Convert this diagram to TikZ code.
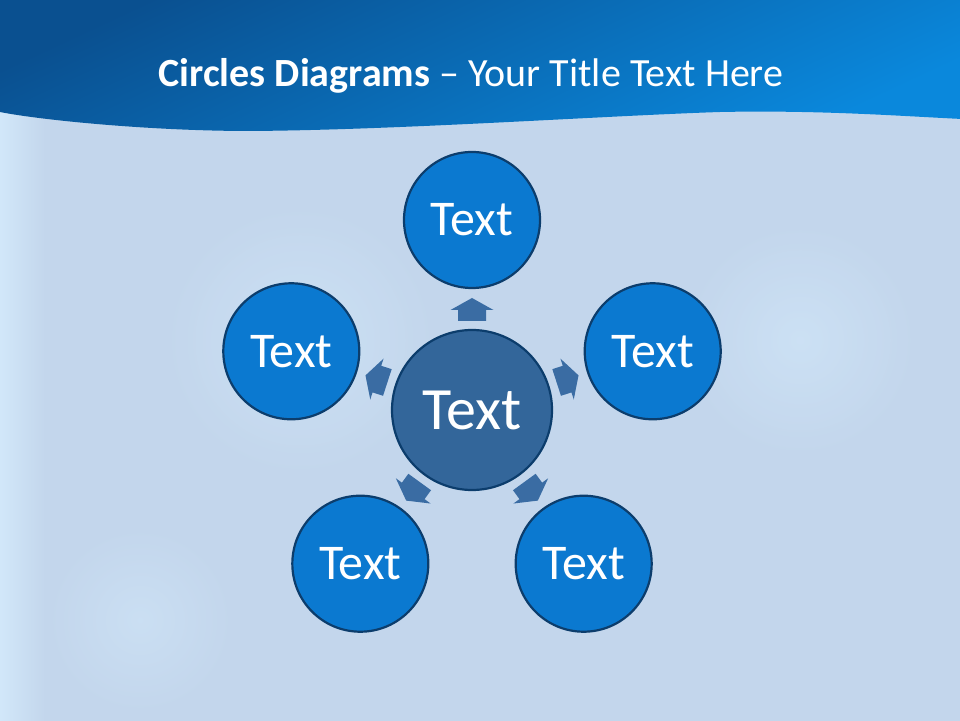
\documentclass[tikz,border=0pt]{standalone}
\usepackage{fontspec}
\setmainfont{Carlito}
\usetikzlibrary{calc}
\begin{document}
\begin{tikzpicture}[x=1pt,y=1pt,
  outer/.style={circle,minimum size=136pt,inner sep=0pt,fill=outerblue,draw=rimblue,line width=2.2pt,text=white,font=\fontsize{50}{50}\selectfont},
  hub/.style={circle,minimum size=160pt,inner sep=0pt,fill=hubblue,draw=rimblue,line width=2.2pt,text=white,font=\fontsize{60}{60}\selectfont},
  pointer/.style={fill=arrowblue}]
\definecolor{bgblue}{HTML}{C3D6EC}
\definecolor{bglight}{HTML}{D2E8FA}
\definecolor{headdark}{HTML}{0A5090}
\definecolor{headlight}{HTML}{0A88DC}
\definecolor{outerblue}{HTML}{0B79D0}
\definecolor{rimblue}{HTML}{0C3D6C}
\definecolor{hubblue}{HTML}{33669A}
\definecolor{arrowblue}{HTML}{3A6CA3}
\useasboundingbox (0,0) rectangle (960,720);
\clip (-1,-1) rectangle (961,721);
% background
\fill[bgblue] (-2,-2) rectangle (962,722);
\shade[left color=bglight,right color=bgblue] (-2,-2) rectangle (45,620);
\shade[inner color=bglight,outer color=bgblue,opacity=0.6] (300,380) circle (140);
\shade[inner color=bglight,outer color=bgblue,opacity=0.6] (800,380) circle (120);
\shade[inner color=bglight,outer color=bgblue,opacity=0.5] (140,100) circle (95);
% header band with wave
\shade[top color=headdark,bottom color=headlight,shading angle=25]
  (-2,722) -- (-2,608) -- (0,608) .. controls (40,600) and (150,589) .. (250,589)
  .. controls (400,590) and (600,604) .. (720,608)
  .. controls (820,610) and (900,604) .. (962,601) -- (962,722) -- cycle;
\node[text=white,font=\fontsize{40}{40}\selectfont,anchor=base] (title) at (471,633)
  {\textbf{Circles Diagrams} – Your Title Text Here};
% circles
\coordinate (C) at (472,310);
\node[hub] (hub) at (C) {Text};
\node[outer] (n1) at ($(C)+(90:190)$) {Text};
\node[outer] (n2) at ($(C)+(18:190)$) {Text};
\node[outer] (n3) at ($(C)+(-54:190)$) {Text};
\node[outer] (n4) at ($(C)+(-126:190)$) {Text};
\node[outer] (n5) at ($(C)+(162:190)$) {Text};
% arrows
\foreach \a in {90,18,-54,-126,162}{
  \begin{scope}[shift={(C)},rotate=\a-90]
    \fill[pointer] (-14,89) -- (14,89) -- (14,100) -- (21.5,100) -- (0,112) -- (-21.5,100) -- (-14,100) -- cycle;
  \end{scope}
}
\end{tikzpicture}
\end{document}
